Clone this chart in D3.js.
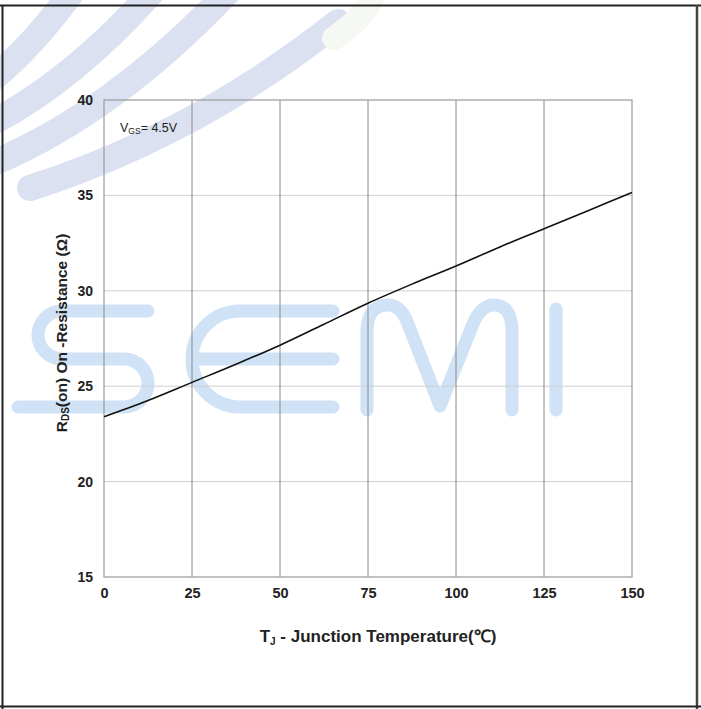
<!DOCTYPE html>
<html>
<head>
<meta charset="utf-8">
<script src="https://cdn.jsdelivr.net/npm/d3@7"></script>
<style>
  body { margin: 0; background: #fff; }
  svg { display: block; }
</style>
</head>
<body>
<script>
// Junction temperature (°C) and on-resistance
const tempC = [0, 12.5, 25, 37.5, 50, 62.5, 75, 87.5, 100, 112.5, 125, 137.5, 150];
const rdsOn = [23.4, 24.25, 25.2, 26.15, 27.15, 28.25, 29.35, 30.35, 31.3, 32.3, 33.25, 34.2, 35.15];

// Axis ticks
const xTicks = [0, 25, 50, 75, 100, 125, 150];
const yTicks = [15, 20, 25, 30, 35, 40];

let W = 701, H = 709;
let margin = { left: 104, right: 69, top: 100, bottom: 132 };

let svg = d3.select('body').append('svg')
  .attr('width', W)
  .attr('height', H);

// background logo bands (decoration)
let deco = svg.append('g');
let bands = [
  'M 30 188 Q 195 135 338 22',
  'M -14 166 Q 110 116 228 -8',
  'M -14 126 Q 72 82 152 -8',
  'M -14 84 Q 30 50 72 -8'
];
deco.selectAll('path.band')
  .data(bands)
  .enter()
  .append('path')
  .attr('class', 'band')
  .attr('d', d => d)
  .attr('fill', 'none')
  .attr('stroke', '#dbe1f1')
  .attr('stroke-width', 26)
  .attr('stroke-linecap', 'round');
deco.append('path')
  .attr('d', 'M 334 38 Q 362 20 374 -5')
  .attr('fill', 'none')
  .attr('stroke', '#f5f8f3')
  .attr('stroke-width', 24)
  .attr('stroke-linecap', 'round');

// SEMI watermark
let mark = [
  'M 148 311 H 62 A 24 24 0 0 0 62 359 H 124 A 24 24 0 0 1 124 407 H 18',
  'M 333 311 H 240 A 48 48 0 0 0 240 407 H 333 M 196 359 H 333',
  'M 367 410 V 332 Q 367 305 388 305 Q 401 305 408 324 L 440 406 L 473 324 Q 481 305 494 305 Q 512 305 512 332 V 410',
  'M 556 309 V 410'
];
deco.selectAll('path.mark')
  .data(mark)
  .enter()
  .append('path')
  .attr('class', 'mark')
  .attr('d', d => d)
  .attr('fill', 'none')
  .attr('stroke', '#d0e2f5')
  .attr('stroke-width', 13)
  .attr('stroke-linecap', 'round')
  .attr('stroke-linejoin', 'round');

// page frame
svg.append('line').attr('x1', 0).attr('x2', W).attr('y1', 5.5).attr('y2', 5.5)
  .attr('stroke', '#222').attr('stroke-width', 2);
svg.append('line').attr('x1', 2.5).attr('x2', 2.5).attr('y1', 5).attr('y2', H)
  .attr('stroke', '#222').attr('stroke-width', 2);
svg.append('line').attr('x1', 697).attr('x2', 697).attr('y1', 5).attr('y2', H)
  .attr('stroke', '#444').attr('stroke-width', 2.5);
svg.append('line').attr('x1', 0).attr('x2', W).attr('y1', 706.5).attr('y2', 706.5)
  .attr('stroke', '#222').attr('stroke-width', 2);

let x = d3.scaleLinear().domain([0, 150]).range([margin.left, W - margin.right]);
let y = d3.scaleLinear().domain([15, 40]).range([H - margin.bottom, margin.top]);

// grid
svg.append('g').selectAll('line')
  .data(yTicks.slice(1, -1))
  .enter()
  .append('line')
  .attr('x1', x(0)).attr('x2', x(150))
  .attr('y1', d => y(d)).attr('y2', d => y(d))
  .attr('stroke', '#cfcfcf')
  .attr('stroke-width', 1);

svg.append('g').selectAll('line')
  .data(xTicks.slice(1, -1))
  .enter()
  .append('line')
  .attr('x1', d => x(d)).attr('x2', d => x(d))
  .attr('y1', y(40)).attr('y2', y(15))
  .attr('stroke', '#8a8a8a')
  .attr('stroke-width', 1);

svg.append('rect')
  .attr('x', x(0)).attr('y', y(40))
  .attr('width', x(150) - x(0)).attr('height', y(15) - y(40))
  .attr('fill', 'none')
  .attr('stroke', '#9a9a9a')
  .attr('stroke-width', 1.2);

// axes (labels only)
let yAxis = svg.append('g')
  .attr('transform', `translate(${x(0) - 11},0)`)
  .call(d3.axisLeft(y).tickValues(yTicks).tickSize(0).tickPadding(0));
yAxis.select('.domain').remove();
yAxis.selectAll('text')
  .attr('font-family', 'Liberation Sans, Arial, sans-serif')
  .attr('font-weight', 'bold')
  .attr('font-size', '14px')
  .attr('fill', '#222');

let xAxis = svg.append('g')
  .attr('transform', `translate(0,${y(15) + 11})`)
  .call(d3.axisBottom(x).tickValues(xTicks).tickSize(0).tickPadding(0));
xAxis.select('.domain').remove();
xAxis.selectAll('text')
  .attr('font-family', 'Liberation Sans, Arial, sans-serif')
  .attr('font-weight', 'bold')
  .attr('font-size', '14.5px')
  .attr('fill', '#222');

// curve
let pts = tempC.map((t, i) => [t, rdsOn[i]]);
let line = d3.line()
  .x(d => x(d[0]))
  .y(d => y(d[1]))
  .curve(d3.curveMonotoneX);
svg.append('path')
  .datum(pts)
  .attr('d', line)
  .attr('fill', 'none')
  .attr('stroke', '#111')
  .attr('stroke-width', 1.6);

// VGS annotation
let vgs = svg.append('text')
  .attr('x', 120).attr('y', 132)
  .attr('font-family', 'Liberation Sans, Arial, sans-serif')
  .attr('font-size', '12.5px')
  .attr('fill', '#222');
vgs.append('tspan').text('V');
vgs.append('tspan').attr('font-size', '8.5px').attr('dy', 2).text('GS');
vgs.append('tspan').attr('dy', -2).text('= 4.5V');

// axis titles
let xt = svg.append('text')
  .attr('x', 378).attr('y', 642)
  .attr('text-anchor', 'middle')
  .attr('font-family', 'Liberation Sans, Arial, sans-serif')
  .attr('font-weight', 'bold')
  .attr('font-size', '17px')
  .attr('fill', '#222');
xt.append('tspan').text('T');
xt.append('tspan').attr('font-size', '10px').attr('dy', 3).text('J');
xt.append('tspan').attr('dy', -3).text(' - Junction Temperature(℃)');

let yt = svg.append('text')
  .attr('transform', 'translate(67,333) rotate(-90)')
  .attr('text-anchor', 'middle')
  .attr('font-family', 'Liberation Sans, Arial, sans-serif')
  .attr('font-weight', 'bold')
  .attr('font-size', '15.5px')
  .attr('fill', '#222');
yt.append('tspan').text('R');
yt.append('tspan').attr('font-size', '10px').attr('dy', 2).text('DS');
yt.append('tspan').attr('dy', -2).text('(on) On -Resistance (Ω)');
</script>
</body>
</html>
